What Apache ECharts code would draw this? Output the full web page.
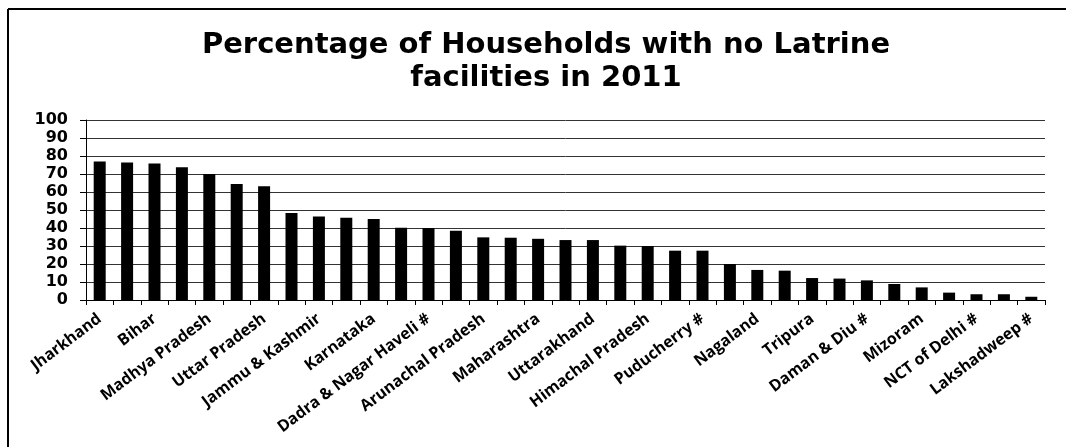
<!DOCTYPE html>
<html>
<head>
<meta charset="utf-8">
<script src="https://cdn.jsdelivr.net/npm/echarts@6/dist/echarts.min.js"></script>
<style>
  html, body { margin: 0; padding: 0; background: #fff; }
  #chart { width: 1066px; height: 447px; }
</style>
</head>
<body>
<div id="chart"></div>
<script>
const titleText = 'Percentage of Households with no Latrine\nfacilities in 2011';
const categories = [
  'Jharkhand', 'Odisha', 'Bihar', 'Chhattisgarh', 'Madhya Pradesh', 'Rajasthan',
  'Uttar Pradesh', 'Tamil Nadu', 'Jammu & Kashmir', 'Andhra Pradesh', 'Karnataka',
  'Gujarat', 'Dadra & Nagar Haveli #', 'West Bengal', 'Arunachal Pradesh', 'Assam',
  'Maharashtra', 'Meghalaya', 'Uttarakhand', 'Haryana', 'Himachal Pradesh',
  'Andaman & Nicobar Islands #', 'Puducherry #', 'Goa', 'Nagaland', 'Punjab',
  'Tripura', 'Manipur', 'Daman & Diu #', 'Sikkim', 'Mizoram', 'Chandigarh #',
  'NCT of Delhi #', 'Kerala', 'Lakshadweep #'
];
const values = [
  77.0, 76.4, 75.9, 73.8, 70.0, 64.5,
  63.2, 48.3, 46.4, 45.7, 45.0,
  40.2, 40.0, 38.5, 34.8, 34.6,
  34.0, 33.3, 33.3, 30.2, 30.0,
  27.4, 27.4, 20.0, 16.7, 16.3,
  12.2, 11.9, 10.9, 8.9, 7.0, 4.1,
  3.2, 3.2, 1.8
];
const yTicks = { min: 0, max: 100, interval: 10 };

const chart = echarts.init(document.getElementById('chart'), null, { renderer: 'canvas' });
chart.setOption({
  animation: false,
  backgroundColor: '#fff',
  title: {
    text: titleText,
    left: 541,
    textAlign: 'center',
    top: 24,
    textStyle: {
      fontFamily: 'DejaVu Sans',
      fontWeight: 'bold',
      fontSize: 29,
      lineHeight: 33,
      color: '#000'
    }
  },
  graphic: [
    { type: 'line', shape: { x1: 8, y1: 9, x2: 1066, y2: 9 }, style: { stroke: '#000', lineWidth: 2 } },
    { type: 'line', shape: { x1: 8, y1: 9, x2: 8, y2: 447 }, style: { stroke: '#000', lineWidth: 2 } }
  ],
  grid: { left: 86, right: 21, top: 120, bottom: 147, containLabel: false },
  xAxis: {
    type: 'category',
    data: categories,
    axisLine: { show: true, lineStyle: { color: '#000', width: 1 } },
    axisTick: { show: true, interval: 0, length: 5, lineStyle: { color: '#000' } },
    axisLabel: {
      interval: 1,
      rotate: 37,
      fontFamily: 'Open Sans',
      fontWeight: 'bold',
      fontSize: 16,
      color: '#000',
      margin: 17
    }
  },
  yAxis: {
    type: 'value',
    min: yTicks.min,
    max: yTicks.max,
    interval: yTicks.interval,
    axisLine: { show: true, lineStyle: { color: '#000', width: 1 } },
    axisTick: { show: true, length: 6, lineStyle: { color: '#000' } },
    axisLabel: {
      fontFamily: 'DejaVu Sans',
      fontWeight: 'bold',
      fontSize: 16,
      color: '#000',
      margin: 18
    },
    splitLine: { show: true, lineStyle: { color: '#333', width: 1 } }
  },
  series: [{
    type: 'bar',
    data: values,
    barWidth: 12,
    itemStyle: { color: '#000' }
  }]
});
</script>
</body>
</html>
